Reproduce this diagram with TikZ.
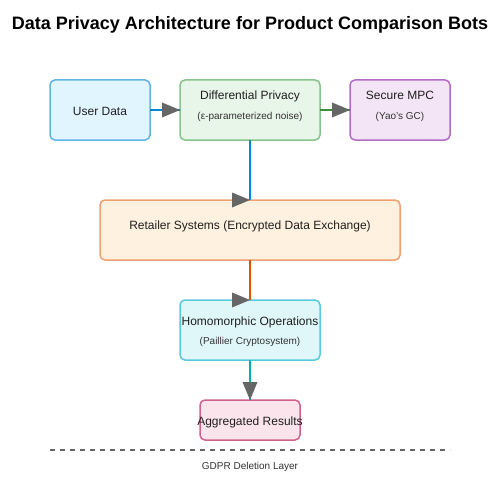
\documentclass[tikz,border=0pt]{standalone}
\usepackage{fontspec}
\setmainfont{Liberation Sans}
\definecolor{udF}{HTML}{E1F5FE}\definecolor{udS}{HTML}{63B4E6}
\definecolor{dpF}{HTML}{E8F5E9}\definecolor{dpS}{HTML}{86C48A}
\definecolor{mpF}{HTML}{F3E5F5}\definecolor{mpS}{HTML}{B46CCB}
\definecolor{rtF}{HTML}{FFF1DF}\definecolor{rtS}{HTML}{F2A06E}
\definecolor{hoF}{HTML}{E0F7FA}\definecolor{hoS}{HTML}{55CCDC}
\definecolor{agF}{HTML}{FCE4EC}\definecolor{agS}{HTML}{D0608C}
\definecolor{cBlue}{HTML}{0288D1}\definecolor{cGreen}{HTML}{388E3C}
\definecolor{cOrange}{HTML}{E65100}\definecolor{cCyan}{HTML}{00ACC1}
\definecolor{headgray}{HTML}{666666}
\begin{document}
\begin{tikzpicture}[x=1pt,y=-1pt,
  box/.style={draw, rounded corners=5pt, line width=1.5pt, inner sep=0pt, outer sep=0pt},
  lbl/.style={anchor=base, inner sep=0pt, font=\fontsize{12}{14}\selectfont, text=black!88},
  sublbl/.style={anchor=base, inner sep=0pt, font=\fontsize{10}{12}\selectfont, text=black!80},
  conn/.style={line width=2pt},
  head/.style={fill=headgray, draw=none}]
\useasboundingbox[fill=white] (0,0) rectangle (500,500);
\node[anchor=base, inner sep=0pt, font=\bfseries\fontsize{18}{22}\selectfont] (title) at (250,30) {Data Privacy Architecture for Product Comparison Bots};

% boxes
\node[box, draw=udS, fill=udF, minimum width=100pt, minimum height=60pt] (ud) at (100,110) {};
\node[box, draw=dpS, fill=dpF, minimum width=140pt, minimum height=60pt] (dp) at (250,110) {};
\node[box, draw=mpS, fill=mpF, minimum width=100pt, minimum height=60pt] (mpc) at (400,110) {};
\node[box, draw=rtS, fill=rtF, minimum width=300pt, minimum height=60pt] (ret) at (250,230) {};
\node[box, draw=hoS, fill=hoF, minimum width=140pt, minimum height=60pt] (hom) at (250,330) {};
\node[box, draw=agS, fill=agF, minimum width=100pt, minimum height=40pt] (agg) at (250,420) {};

% labels
\node[lbl] (udt) at (100,115) {User Data};
\node[lbl] (dpt) at (250,100) {Differential Privacy};
\node[sublbl] (dps) at (250,120) {(ε-parameterized noise)};
\node[lbl] (mpt) at (400,100) {Secure MPC};
\node[sublbl] (mps) at (400,120) {(Yao's GC)};
\node[lbl] (rtt) at (250,229) {Retailer Systems (Encrypted Data Exchange)};
\node[lbl] (hot) at (250,325) {Homomorphic Operations};
\node[sublbl] (hos) at (250,344) {(Paillier Cryptosystem)};
\node[lbl] (agt) at (250,425) {Aggregated Results};

% connectors
\draw[conn, cBlue] (ud.east) -- (dp.west);
\fill[head] (dp.west) -- ++(-18,-7.5) -- ++(0,15) -- cycle;
\draw[conn, cGreen] (dp.east) -- (mpc.west);
\fill[head] (mpc.west) -- ++(-18,-7.5) -- ++(0,15) -- cycle;
\draw[conn, cBlue] (dp.south) -- (ret.north);
\fill[head] (ret.north) -- ++(-18,-7.5) -- ++(0,15) -- cycle;
\draw[conn, cOrange] (ret.south) -- (hom.north);
\fill[head] (hom.north) -- ++(-18,-7.5) -- ++(0,15) -- cycle;
\draw[conn, cCyan] (hom.south) -- (agg.north);
\fill[head] (agg.north) -- ++(-7.5,-18) -- ++(15,0) -- cycle;

% GDPR layer
\coordinate (gl) at (50,450);
\coordinate (gr) at (450,450);
\draw[headgray, line width=2pt, dash pattern=on 5pt off 5pt] (gl) -- (gr);
\node[sublbl] (gdpr) at (250,469) {GDPR Deletion Layer};
\end{tikzpicture}
\end{document}
